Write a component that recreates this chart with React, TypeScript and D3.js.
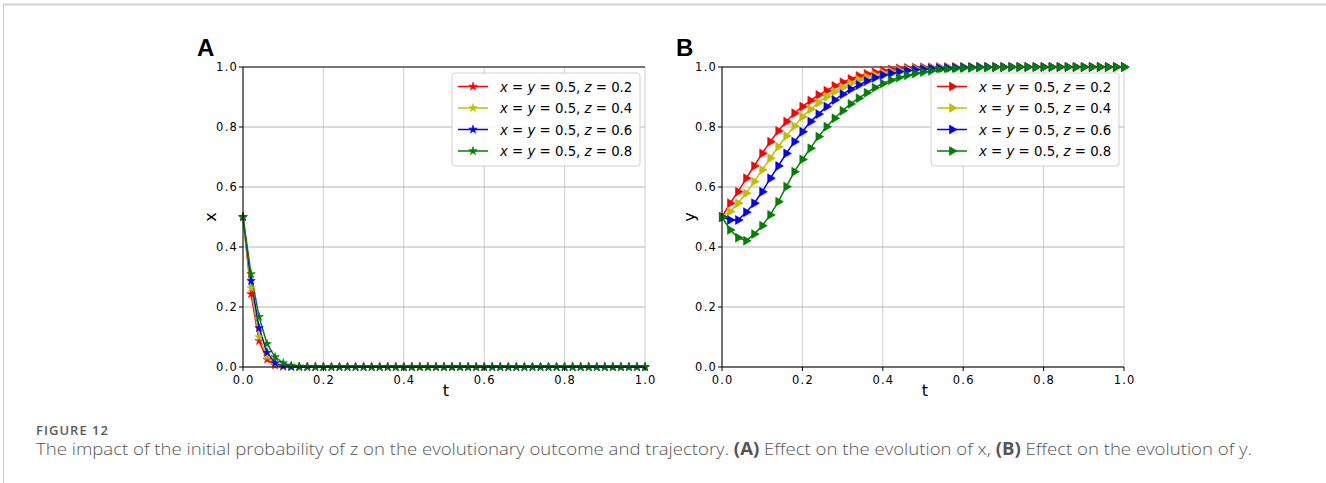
import React from "react";
import * as d3 from "d3";

const tValues: number[] = d3.range(0, 51).map((i) => +(i * 0.02).toFixed(2));
const xTicks = [0, 0.2, 0.4, 0.6, 0.8, 1.0];
const yTicks = [0, 0.2, 0.4, 0.6, 0.8, 1.0];
const legendLabels = ["0.2", "0.4", "0.6", "0.8"];
const seriesColors = ["#ff0000", "#bfbf00", "#0000ff", "#008000"];

const xRed = [0.5, 0.243, 0.087, 0.025, 0.005, 0.001, 0, 0, 0, 0, 0, 0, 0, 0, 0, 0, 0, 0, 0, 0, 0, 0, 0, 0, 0, 0, 0, 0, 0, 0, 0, 0, 0, 0, 0, 0, 0, 0, 0, 0, 0, 0, 0, 0, 0, 0, 0, 0, 0, 0, 0];
const xYellow = [0.5, 0.263, 0.1, 0.035, 0.008, 0.002, 0, 0, 0, 0, 0, 0, 0, 0, 0, 0, 0, 0, 0, 0, 0, 0, 0, 0, 0, 0, 0, 0, 0, 0, 0, 0, 0, 0, 0, 0, 0, 0, 0, 0, 0, 0, 0, 0, 0, 0, 0, 0, 0, 0, 0];
const xBlue = [0.5, 0.287, 0.13, 0.048, 0.013, 0.003, 0.001, 0, 0, 0, 0, 0, 0, 0, 0, 0, 0, 0, 0, 0, 0, 0, 0, 0, 0, 0, 0, 0, 0, 0, 0, 0, 0, 0, 0, 0, 0, 0, 0, 0, 0, 0, 0, 0, 0, 0, 0, 0, 0, 0, 0];
const xGreen = [0.5, 0.31, 0.167, 0.077, 0.033, 0.013, 0.005, 0.002, 0.001, 0, 0, 0, 0, 0, 0, 0, 0, 0, 0, 0, 0, 0, 0, 0, 0, 0, 0, 0, 0, 0, 0, 0, 0, 0, 0, 0, 0, 0, 0, 0, 0, 0, 0, 0, 0, 0, 0, 0, 0, 0, 0];

const yRed = [0.5, 0.546, 0.584, 0.629, 0.67, 0.712, 0.751, 0.787, 0.818, 0.846, 0.868, 0.888, 0.907, 0.921, 0.937, 0.949, 0.96, 0.97, 0.977, 0.982, 0.988, 0.992, 0.995, 0.997, 0.998, 0.999, 0.999, 1, 1, 1, 1, 1, 1, 1, 1, 1, 1, 1, 1, 1, 1, 1, 1, 1, 1, 1, 1, 1, 1, 1, 1];
const yYellow = [0.5, 0.518, 0.546, 0.579, 0.618, 0.657, 0.696, 0.734, 0.77, 0.803, 0.834, 0.859, 0.881, 0.901, 0.918, 0.932, 0.945, 0.957, 0.966, 0.973, 0.98, 0.985, 0.989, 0.992, 0.994, 0.996, 0.997, 0.998, 0.999, 0.999, 1, 1, 1, 1, 1, 1, 1, 1, 1, 1, 1, 1, 1, 1, 1, 1, 1, 1, 1, 1, 1];
const yBlue = [0.5, 0.49, 0.49, 0.516, 0.546, 0.584, 0.629, 0.67, 0.712, 0.751, 0.784, 0.818, 0.843, 0.868, 0.89, 0.909, 0.926, 0.94, 0.953, 0.964, 0.973, 0.979, 0.984, 0.988, 0.991, 0.993, 0.995, 0.996, 0.997, 0.998, 0.999, 0.999, 1, 1, 1, 1, 1, 1, 1, 1, 1, 1, 1, 1, 1, 1, 1, 1, 1, 1, 1];
const yGreen = [0.5, 0.457, 0.431, 0.421, 0.443, 0.471, 0.507, 0.551, 0.601, 0.651, 0.692, 0.729, 0.768, 0.801, 0.829, 0.854, 0.877, 0.896, 0.914, 0.931, 0.945, 0.956, 0.965, 0.972, 0.978, 0.983, 0.987, 0.99, 0.992, 0.994, 0.996, 0.997, 0.998, 0.998, 0.999, 0.999, 1, 1, 1, 1, 1, 1, 1, 1, 1, 1, 1, 1, 1, 1, 1];

const panelASeries = [xRed, xYellow, xBlue, xGreen];
const panelBSeries = [yRed, yYellow, yBlue, yGreen];

const TICK_FONT = "'DejaVu Sans', sans-serif";
const LABEL_FONT = "'DejaVu Sans', sans-serif";

function Panel({ left, letter, yLabel, series, marker }: { left: number; letter: string; yLabel: string; series: number[][]; marker: "star" | "tri" }) {
  const top = 67;
  const width = 402;
  const height = 300;
  const x = d3.scaleLinear().domain([0, 1]).range([left, left + width]);
  const y = d3.scaleLinear().domain([0, 1]).range([top + height, top]);
  const line = d3.line<number>().x((_, i) => x(tValues[i])).y((d) => y(d));
  const symStar = d3.symbol().type(d3.symbolStar).size(22)();
  const symTri = d3.symbol().type(d3.symbolTriangle).size(34)();
  const mk = (cx: number, cy: number, color: string, key: string | number) =>
    marker === "star" ? (
      <path key={key} d={symStar as string} transform={`translate(${cx},${cy})`} fill={color} stroke={color} strokeWidth={0.6} />
    ) : (
      <path key={key} d={symTri as string} transform={`translate(${cx},${cy}) rotate(90)`} fill={color} stroke={color} strokeWidth={0.6} />
    );
  const legX = left + 209;
  const legY = 73;
  return (
    <g>
      {xTicks.map((t) => (
        <line key={"gx" + t} x1={x(t)} x2={x(t)} y1={top} y2={top + height} stroke="#cfcfcf" strokeWidth={1} />
      ))}
      {yTicks.map((t) => (
        <line key={"gy" + t} x1={left} x2={left + width} y1={y(t)} y2={y(t)} stroke="#b5b5b5" strokeWidth={1} />
      ))}
      <line x1={left} x2={left + width} y1={top} y2={top} stroke="#555" strokeWidth={1.5} />
      {series.map((s, si) => (
        <path key={"l" + si} d={line(s) as string} fill="none" stroke={seriesColors[si]} strokeWidth={1.5} />
      ))}
      {series.map((s, si) => s.map((v, i) => mk(x(tValues[i]), y(v), seriesColors[si], `m${si}-${i}`)))}
      <line x1={left} x2={left} y1={top} y2={top + height} stroke="#000" strokeWidth={1} />
      <line x1={left} x2={left + width} y1={top + height} y2={top + height} stroke="#000" strokeWidth={1} />
      {xTicks.map((t) => (
        <g key={"tx" + t}>
          <line x1={x(t)} x2={x(t)} y1={top + height} y2={top + height + 4} stroke="#000" />
          <text x={x(t) + 0.6} y={top + height + 17} textAnchor="middle" fontFamily={TICK_FONT} fontSize={11.5} letterSpacing={1.2} fill="#000">
            {t.toFixed(1)}
          </text>
        </g>
      ))}
      {yTicks.map((t) => (
        <g key={"ty" + t}>
          <line x1={left - 4} x2={left} y1={y(t)} y2={y(t)} stroke="#000" />
          <text x={left - 5} y={y(t) + 4} textAnchor="end" fontFamily={TICK_FONT} fontSize={11.5} letterSpacing={1.2} fill="#000">
            {t.toFixed(1)}
          </text>
        </g>
      ))}
      <text x={left + 203} y={top + height + 29} textAnchor="middle" fontFamily={LABEL_FONT} fontSize={16} fill="#000">
        t
      </text>
      <text transform={`translate(${left - 27},${top + 150}) rotate(-90)`} textAnchor="middle" fontFamily={LABEL_FONT} fontSize={16} fill="#000">
        {yLabel}
      </text>
      <text x={left - 46} y={top - 11} fontFamily="'Liberation Sans', Arial, sans-serif" fontWeight="bold" fontSize={24} fill="#000">
        {letter}
      </text>
      <rect x={legX} y={legY} width={188} height={93} rx={3} fill="#fff" fillOpacity={0.85} stroke="#d0d0d0" strokeWidth={1} />
      {legendLabels.map((lab, i) => {
        const ly = legY + 13.5 + i * 21.5;
        return (
          <g key={"lg" + i}>
            <line x1={legX + 6} x2={legX + 36} y1={ly} y2={ly} stroke={seriesColors[i]} strokeWidth={1.5} />
            {mk(legX + 21, ly, seriesColors[i], "lm" + i)}
            <text x={legX + 48} y={ly + 5} fontFamily={LABEL_FONT} fontSize={13.3} fill="#000">
              <tspan fontStyle="italic">x</tspan> = <tspan fontStyle="italic">y</tspan> = 0.5, <tspan fontStyle="italic">z</tspan> = {lab}
            </text>
          </g>
        );
      })}
    </g>
  );
}

export default function App() {
  return (
    <svg width={1326} height={483} style={{ position: "absolute", left: 0, top: 0, background: "#fff" }}>
      <rect x={0} y={0} width={1326} height={483} fill="#fff" />
      <line x1={3} x2={1326} y1={4.5} y2={4.5} stroke="#d3d3d3" strokeWidth={2} />
      <line x1={3.5} x2={3.5} y1={4} y2={483} stroke="#cfcfcf" strokeWidth={1} />
      <Panel left={243} letter="A" yLabel="x" series={panelASeries} marker="star" />
      <Panel left={722} letter="B" yLabel="y" series={panelBSeries} marker="tri" />
      <text x={36} y={435} fontFamily="'Open Sans', sans-serif" fontWeight={600} fontSize={13} fill="#5a5a5a" textLength={72} lengthAdjust="spacing">
        FIGURE 12
      </text>
      <text x={36} y={455} fontFamily="'Open Sans', sans-serif" fontWeight={300} fontSize={17} fill="#555" textLength={1216} lengthAdjust="spacingAndGlyphs">
        The impact of the initial probability of z on the evolutionary outcome and trajectory.{" "}
        <tspan fontWeight={700}>(A)</tspan> Effect on the evolution of x, <tspan fontWeight={700}>(B)</tspan> Effect on the evolution of y.
      </text>
    </svg>
  );
}
